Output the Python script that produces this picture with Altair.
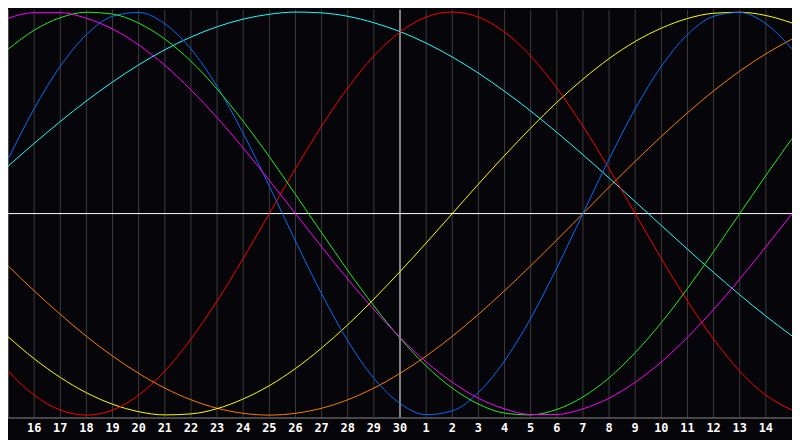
import altair as alt
import pandas as pd

# day index 0..30 (index 0 = day 15, index 30 = day 15 of next month)
idx = list(range(31))
tick_labels = ["16", "17", "18", "19", "20", "21", "22", "23", "24", "25", "26", "27", "28", "29", "30",
               "1", "2", "3", "4", "5", "6", "7", "8", "9", "10", "11", "12", "13", "14"]

red = [-0.782, -0.901, -0.975, -1.000, -0.975, -0.901, -0.782, -0.623, -0.434, -0.223,
       0.000, 0.223, 0.434, 0.623, 0.782, 0.901, 0.975, 1.000, 0.975, 0.901,
       0.782, 0.623, 0.434, 0.223, 0.000, -0.223, -0.434, -0.623, -0.782, -0.901, -0.975]
blue = [0.270, 0.520, 0.731, 0.888, 0.979, 0.998, 0.942, 0.817, 0.631, 0.398,
        0.136, -0.136, -0.398, -0.631, -0.817, -0.942, -0.998, -0.979, -0.888, -0.731,
        -0.520, -0.270, 0.000, 0.270, 0.520, 0.731, 0.888, 0.979, 0.998, 0.942, 0.817]
green = [0.815, 0.910, 0.972, 0.999, 0.990, 0.945, 0.866, 0.756, 0.618, 0.458,
         0.282, 0.095, -0.095, -0.282, -0.458, -0.618, -0.756, -0.866, -0.945, -0.990,
         -0.999, -0.972, -0.910, -0.815, -0.690, -0.541, -0.372, -0.189, 0.000, 0.189, 0.372]
magenta = [0.969, 0.997, 0.997, 0.969, 0.916, 0.837, 0.736, 0.614, 0.476, 0.325,
           0.165, 0.000, -0.165, -0.325, -0.476, -0.614, -0.736, -0.837, -0.916, -0.969,
           -0.997, -0.997, -0.969, -0.916, -0.837, -0.736, -0.614, -0.476, -0.325, -0.165, 0.000]
yellow = [-0.611, -0.720, -0.813, -0.889, -0.946, -0.983, -0.999, -0.994, -0.968, -0.920,
          -0.854, -0.769, -0.667, -0.552, -0.424, -0.288, -0.146, 0.000, 0.146, 0.288,
          0.424, 0.552, 0.667, 0.769, 0.854, 0.920, 0.968, 0.994, 0.999, 0.983, 0.946]
orange = [-0.259, -0.383, -0.500, -0.609, -0.707, -0.793, -0.866, -0.924, -0.966, -0.991,
          -1.000, -0.991, -0.966, -0.924, -0.866, -0.793, -0.707, -0.609, -0.500, -0.383,
          -0.259, -0.131, 0.000, 0.131, 0.259, 0.383, 0.500, 0.609, 0.707, 0.793, 0.866]
cyan = [0.235, 0.348, 0.457, 0.559, 0.653, 0.738, 0.813, 0.876, 0.927, 0.965,
        0.989, 1.000, 0.996, 0.979, 0.947, 0.903, 0.846, 0.777, 0.697, 0.607,
        0.509, 0.403, 0.292, 0.177, 0.059, -0.059, -0.177, -0.292, -0.403, -0.509, -0.607]

series_names = ["orange", "yellow", "cyan", "red", "blue", "green", "magenta"]
series_vals = [orange, yellow, cyan, red, blue, green, magenta]
series_colors = ["#ff7f00", "#ffff00", "#20ffff", "#ff0000", "#0a6cff", "#20f020", "#ff00ff"]

rows = []
for name, vals in zip(series_names, series_vals):
    for i, v in zip(idx, vals):
        rows.append({"idx": i, "value": v, "series": name})
df = pd.DataFrame(rows)

W, H = 790, 411

xs = alt.Scale(domain=[0, 30], range=[0, W], nice=False, zero=False)
ys = alt.Scale(domain=[-1.012, 1.012], nice=False, zero=False)

grid_df = pd.DataFrame({"idx": [i for i in range(1, 30) if i != 15]})
grid = alt.Chart(grid_df).mark_rule(color="#3c3c3c", strokeWidth=1).encode(
    x=alt.X("idx:Q", scale=xs, axis=None)
)

center_v = alt.Chart(pd.DataFrame({"idx": [15]})).mark_rule(color="#ffffff", strokeWidth=1).encode(
    x=alt.X("idx:Q", scale=xs, axis=None)
)
center_h = alt.Chart(pd.DataFrame({"value": [0.0]})).mark_rule(color="#ffffff", strokeWidth=1).encode(
    y=alt.Y("value:Q", scale=ys, axis=None)
)
left_border = alt.Chart(pd.DataFrame({"idx": [0]})).mark_rule(color="#8a8a8a", strokeWidth=1).encode(
    x=alt.X("idx:Q", scale=xs, axis=None)
)
bottom_border = alt.Chart(pd.DataFrame({"idx": [0]})).mark_rule(color="#8a8a8a", strokeWidth=1).encode(
    x=alt.value(0), x2=alt.value(W), y=alt.value(H + 0.5)
)

lines = alt.Chart(df).mark_line(strokeWidth=1, interpolate="monotone", clip=True).encode(
    x=alt.X("idx:Q", scale=xs, axis=None),
    y=alt.Y("value:Q", scale=ys, axis=None),
    color=alt.Color("series:N", scale=alt.Scale(domain=series_names, range=series_colors), legend=None),
    detail="series:N",
)

lab_df = pd.DataFrame({"idx": list(range(1, 30)), "label": tick_labels})
labels = alt.Chart(lab_df).mark_text(
    color="#ffffff", font="DejaVu Sans Mono", fontSize=12, fontWeight="bold",
    baseline="middle", align="center"
).encode(
    x=alt.X("idx:Q", scale=xs, axis=None),
    y=alt.value(H + 11),
    text="label:N",
)

chart = alt.layer(grid, center_v, center_h, left_border, bottom_border, lines, labels).properties(
    width=W, height=H,
    padding={"left": 0, "top": 0, "right": 0, "bottom": 21},
    autosize=alt.AutoSizeParams(type="none"),
    background="#060509",
).configure_view(stroke=None, fill="#060509")

chart.save("out.html", embed_options={"renderer": "svg", "actions": False})
